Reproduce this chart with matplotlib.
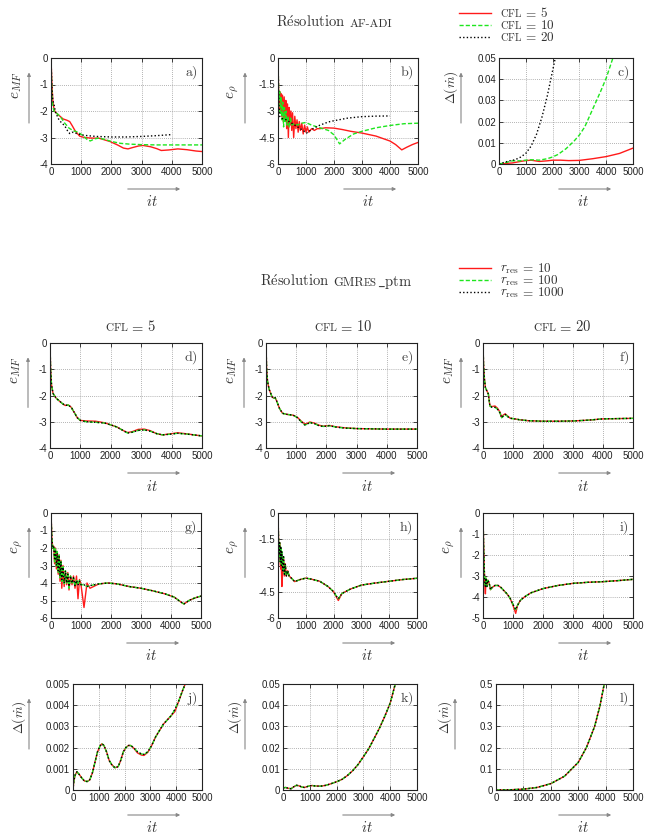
import matplotlib
matplotlib.use("Agg")
import matplotlib.pyplot as plt

W, H = 655, 834

plt.rcParams['font.family'] = ['Liberation Sans', 'DejaVu Sans']
plt.rcParams['mathtext.fontset'] = 'cm'

# ---------------- data: AF-ADI (a, b, c) ----------------
a_red_x = [0, 30, 60, 100, 150, 200, 300, 400, 530, 620, 700, 800, 950, 1100, 1300, 1600, 1950,
           2200, 2400, 2550, 2700, 2900, 3050, 3300, 3500, 3650, 3900, 4200, 4500, 4800, 5000]
a_red_y = [0, -1.0, -1.6, -1.95, -2.05, -2.1, -2.2, -2.3, -2.35, -2.4, -2.55, -2.75, -2.95, -3.0,
           -3.02, -3.03, -3.15, -3.28, -3.4, -3.43, -3.38, -3.32, -3.3, -3.35, -3.42, -3.49, -3.47,
           -3.43, -3.46, -3.51, -3.53]
a_green_x = [0, 30, 60, 100, 200, 300, 450, 600, 750, 900, 1050, 1200, 1300, 1450, 1600, 1800,
             2000, 2300, 2600, 3000, 3500, 4000, 4500, 5000]
a_green_y = [0, -1.4, -1.8, -2.0, -2.1, -2.2, -2.45, -2.65, -2.75, -2.8, -2.92, -3.08, -3.13, -3.05,
             -3.02, -3.08, -3.15, -3.22, -3.25, -3.27, -3.28, -3.28, -3.28, -3.28]
a_black_x = [0, 30, 60, 100, 150, 250, 350, 450, 550, 620, 700, 850, 1000, 1200, 1500, 2000, 2500,
             3000, 3500, 4000]
a_black_y = [0, -1.1, -1.6, -1.75, -2.05, -2.3, -2.45, -2.55, -2.75, -2.85, -2.8, -2.85, -2.9, -2.93,
             -2.96, -2.98, -2.98, -2.96, -2.93, -2.89]

b_red_x = [0, 20, 40, 60, 80, 100, 130, 160, 190, 220, 250, 280, 310, 340, 370, 400, 430, 460,
           490, 520, 560, 600, 640, 680, 720, 760, 800, 850, 900, 950, 1000, 1050, 1100, 1200,
           1300, 1400, 1500, 1700, 2000, 2300, 2600, 3000, 3500, 4000, 4200, 4420, 4600, 4800, 5000]
b_red_y = [0, -1.8, -2.6, -1.9, -3.0, -2.0, -3.3, -2.1, -3.6, -2.2, -3.4, -2.4, -4.0, -2.6, -4.5,
           -2.8, -3.8, -3.0, -4.1, -3.1, -4.5, -3.3, -4.0, -3.5, -4.2, -3.6, -4.1, -3.7, -4.3, -3.8,
           -4.2, -3.9, -4.2, -4.0, -4.1, -4.0, -4.0, -3.95, -3.97, -4.05, -4.15, -4.25, -4.42, -4.7,
           -4.9, -5.2, -5.05, -4.9, -4.78]
b_green_x = [0, 20, 40, 60, 80, 110, 140, 170, 200, 230, 260, 290, 320, 360, 400, 450, 500, 600,
             700, 800, 1000, 1200, 1500, 1800, 2000, 2200, 2400, 2700, 3000, 3500, 4000, 4500, 5000]
b_green_y = [0, -1.7, -2.4, -1.9, -3.2, -2.2, -3.5, -2.5, -3.9, -2.8, -3.6, -3.0, -3.8, -3.3, -3.9,
             -3.4, -3.8, -3.7, -3.8, -3.7, -3.65, -3.8, -3.95, -4.1, -4.35, -4.86, -4.6, -4.3,
             -4.15, -3.95, -3.82, -3.72, -3.69]
b_black_x = [0, 30, 60, 100, 200, 300, 400, 500, 600, 700, 800, 900, 1020, 1100, 1200, 1300, 1500,
             1800, 2000, 2500, 3000, 3500, 4000]
b_black_y = [0, -2.5, -3.3, -3.4, -3.45, -3.5, -3.6, -3.7, -3.8, -3.9, -4.0, -4.1, -4.25, -4.15,
             -4.05, -3.95, -3.8, -3.62, -3.55, -3.4, -3.32, -3.29, -3.28]

c_red_x = [0, 300, 500, 800, 1000, 1200, 1500, 1800, 2000, 2300, 2600, 3000, 3500, 4000, 4500, 5000]
c_red_y = [0, 0.0003, 0.0005, 0.0012, 0.0016, 0.0018, 0.0012, 0.0015, 0.0018, 0.0018, 0.0016,
           0.0017, 0.0025, 0.0035, 0.005, 0.0075]
c_green_x = [0, 200, 500, 800, 1000, 1200, 1500, 1800, 2000, 2200, 2500, 2800, 3000, 3200, 3500,
             3800, 4000, 4250]
c_green_y = [0, 0.0005, 0.0015, 0.0015, 0.0018, 0.002, 0.0018, 0.0025, 0.0033, 0.0045, 0.0072,
             0.0108, 0.0137, 0.0175, 0.026, 0.0345, 0.0405, 0.05]
c_black_x = [0, 200, 400, 600, 800, 1000, 1200, 1400, 1600, 1800, 1900, 2000, 2100]
c_black_y = [0, 0.0008, 0.0015, 0.002, 0.0032, 0.005, 0.0085, 0.014, 0.022, 0.032, 0.038, 0.044, 0.05]

# ---------------- data: GMRes_ptm (d .. l) ----------------
d_x = [0, 20, 50, 100, 200, 300, 400, 500, 600, 700, 800, 900, 1000, 1200, 1500, 1800, 2000, 2200,
       2400, 2550, 2700, 2900, 3100, 3300, 3500, 3700, 3900, 4200, 4500, 4800, 5000]
d_green_y = [0, -1.0, -1.6, -1.92, -2.1, -2.2, -2.3, -2.38, -2.36, -2.45, -2.65, -2.85, -2.95, -3.0,
             -3.02, -3.05, -3.12, -3.2, -3.33, -3.43, -3.4, -3.33, -3.31, -3.36, -3.45, -3.5, -3.48,
             -3.44, -3.47, -3.51, -3.54]
d_red_y = [0, -1.0, -1.6, -1.92, -2.1, -2.2, -2.3, -2.38, -2.36, -2.45, -2.65, -2.85, -2.95, -2.97,
           -2.98, -3.04, -3.12, -3.2, -3.33, -3.41, -3.38, -3.29, -3.28, -3.34, -3.45, -3.5, -3.47,
           -3.42, -3.46, -3.51, -3.54]
d_black_y = d_green_y

e_x = [0, 20, 50, 100, 200, 250, 300, 350, 450, 550, 700, 900, 1050, 1150, 1280, 1350, 1450, 1600,
       1750, 1900, 2100, 2300, 2600, 3000, 3500, 4000, 4500, 5000]
e_green_y = [0, -1.0, -1.45, -1.75, -2.05, -2.1, -2.08, -2.2, -2.5, -2.68, -2.72, -2.75, -2.85,
             -2.98, -3.12, -3.1, -3.03, -3.07, -3.15, -3.18, -3.15, -3.2, -3.24, -3.26, -3.27,
             -3.28, -3.28, -3.28]
e_red_y = [0, -1.0, -1.45, -1.75, -2.05, -2.1, -2.08, -2.2, -2.5, -2.68, -2.72, -2.75, -2.84,
           -2.96, -3.08, -3.07, -3.01, -3.05, -3.13, -3.17, -3.14, -3.19, -3.23, -3.26, -3.27,
           -3.28, -3.28, -3.28]
e_black_y = e_green_y

f_x = [0, 20, 50, 80, 120, 180, 230, 300, 400, 480, 560, 620, 680, 740, 820, 900, 1000, 1200, 1500,
       2000, 2500, 3000, 3500, 4000, 4500, 5000]
f_green_y = [0, -0.9, -1.4, -1.7, -1.8, -1.95, -2.4, -2.45, -2.45, -2.52, -2.65, -2.85, -2.78,
             -2.72, -2.8, -2.87, -2.88, -2.92, -2.96, -2.98, -2.98, -2.97, -2.94, -2.89, -2.88, -2.87]
f_red_y = [0, -0.9, -1.4, -1.7, -1.8, -1.95, -2.4, -2.42, -2.4, -2.48, -2.62, -2.82, -2.74, -2.7,
           -2.78, -2.86, -2.88, -2.92, -2.96, -2.98, -2.98, -2.97, -2.94, -2.89, -2.88, -2.87]
f_black_y = f_green_y

g_x = [0, 30, 60, 90, 120, 150, 180, 210, 240, 270, 300, 330, 360, 400, 440, 480, 520, 560, 600,
       650, 700, 750, 800, 850, 900, 950, 1000, 1100, 1200, 1300, 1600, 1900, 2200, 2600, 3000,
       3400, 3800, 4100, 4300, 4430, 4600, 4800, 5000]
g_green_y = [0, -1.5, -2.0, -1.9, -2.8, -2.0, -3.1, -2.2, -3.4, -2.4, -3.7, -2.7, -3.9, -3.0, -4.1,
             -3.3, -4.0, -3.4, -4.3, -3.6, -4.0, -3.7, -4.2, -3.8, -4.1, -3.85, -4.1, -4.1, -4.2,
             -4.15, -4.05, -4.0, -4.05, -4.2, -4.3, -4.45, -4.62, -4.8, -5.05, -5.2, -5.0, -4.85,
             -4.75]
g_red_y = [0, -1.5, -2.0, -1.9, -2.9, -2.0, -3.2, -2.2, -3.5, -2.4, -3.9, -2.7, -4.3, -3.0, -4.2,
           -3.3, -4.1, -3.4, -4.4, -3.6, -4.1, -3.6, -4.3, -3.6, -4.9, -3.8, -4.1, -5.4, -4.0,
           -4.3, -4.05, -4.0, -4.05, -4.2, -4.3, -4.45, -4.62, -4.8, -5.05, -5.2, -5.0, -4.85,
           -4.75]
g_black_y = [0, -1.5, -2.0, -1.95, -2.7, -2.1, -3.0, -2.3, -3.3, -2.5, -3.6, -2.8, -3.8, -3.1, -4.0,
             -3.3, -4.0, -3.5, -4.2, -3.6, -4.0, -3.7, -4.15, -3.85, -4.1, -3.9, -4.1, -4.1, -4.2,
             -4.15, -4.05, -4.0, -4.05, -4.2, -4.3, -4.45, -4.62, -4.8, -5.05, -5.2, -5.0, -4.85,
             -4.75]

h_x = [0, 20, 40, 60, 80, 100, 120, 140, 170, 200, 230, 260, 300, 350, 400, 500, 600, 800, 1000,
       1200, 1500, 1800, 2000, 2100, 2170, 2300, 2600, 3000, 3500, 4000, 4500, 5000]
h_green_y = [0, -1.5, -2.3, -1.7, -2.8, -1.9, -3.0, -2.2, -3.3, -2.5, -3.5, -2.9, -3.6, -3.3, -3.6,
             -3.75, -3.92, -3.8, -3.72, -3.78, -3.9, -4.2, -4.5, -4.75, -4.9, -4.6, -4.35, -4.12,
             -4.0, -3.9, -3.8, -3.73]
h_red_y = [0, -1.5, -2.3, -1.7, -2.9, -3.2, -3.0, -4.2, -3.3, -2.6, -3.6, -2.9, -3.6, -3.3, -3.6,
           -3.75, -3.92, -3.8, -3.72, -3.78, -3.9, -4.2, -4.5, -4.8, -5.0, -4.6, -4.35, -4.12,
           -4.0, -3.9, -3.8, -3.73]
h_black_y = h_green_y

i_x = [0, 20, 40, 60, 80, 100, 130, 160, 200, 250, 300, 400, 500, 600, 700, 800, 900, 1000, 1090,
       1150, 1250, 1400, 1600, 1800, 2000, 2500, 3000, 3500, 4000, 4500, 5000]
i_green_y = [0, -1.5, -2.6, -3.3, -3.5, -3.1, -3.5, -3.2, -3.3, -3.65, -3.55, -3.45, -3.45, -3.55,
             -3.7, -3.85, -4.05, -4.35, -4.6, -4.4, -4.15, -3.98, -3.8, -3.7, -3.6, -3.45, -3.35,
             -3.3, -3.27, -3.22, -3.16]
i_red_y = [0, -1.5, -2.6, -3.4, -3.85, -3.1, -3.5, -3.2, -3.3, -3.65, -3.55, -3.45, -3.45, -3.55,
           -3.7, -3.85, -4.05, -4.4, -4.78, -4.4, -4.15, -3.98, -3.8, -3.7, -3.6, -3.45, -3.35,
           -3.3, -3.27, -3.22, -3.16]
i_black_y = i_green_y

j_x = [0, 30, 80, 150, 250, 350, 450, 550, 650, 750, 850, 950, 1050, 1120, 1200, 1300, 1400, 1500,
       1620, 1750, 1850, 1950, 2050, 2150, 2230, 2350, 2500, 2650, 2750, 2900, 3050, 3200, 3350,
       3500, 3650, 3800, 3950, 4100, 4250, 4350, 4450]
j_green_y = [0, 0.0004, 0.0007, 0.00086, 0.00072, 0.00055, 0.00042, 0.0004, 0.00048, 0.0008, 0.0013,
             0.0018, 0.00208, 0.00218, 0.0021, 0.0018, 0.0014, 0.0012, 0.00105, 0.0011, 0.0014,
             0.0018, 0.002, 0.0021, 0.0021, 0.002, 0.0018, 0.0017, 0.00168, 0.0018, 0.0021,
             0.0025, 0.0028, 0.0031, 0.0033, 0.0035, 0.0038, 0.0042, 0.0047, 0.005, 0.0054]
j_red_y = [0, 0.0004, 0.0007, 0.00086, 0.00072, 0.00055, 0.00042, 0.0004, 0.00048, 0.0008, 0.0013,
           0.0018, 0.00208, 0.00218, 0.0021, 0.0018, 0.0014, 0.0012, 0.00105, 0.0011, 0.0014,
           0.0018, 0.002, 0.0021, 0.0021, 0.00198, 0.00175, 0.00165, 0.00163, 0.00178, 0.0021,
           0.0025, 0.0028, 0.0031, 0.0033, 0.0035, 0.0037, 0.0042, 0.0047, 0.005, 0.0054]
j_black_y = j_green_y

k_x = [0, 100, 200, 300, 400, 500, 600, 700, 800, 900, 1000, 1100, 1200, 1400, 1600, 1800, 2000,
       2200, 2400, 2600, 2800, 3000, 3200, 3400, 3600, 3800, 4000, 4200]
k_green_y = [0.001, 0.0012, 0.0008, 0.0006, 0.0015, 0.0022, 0.002, 0.0014, 0.0012, 0.0016, 0.002,
             0.0021, 0.0019, 0.0018, 0.0022, 0.003, 0.0039, 0.005, 0.0068, 0.0091, 0.012, 0.0157,
             0.0195, 0.0243, 0.0292, 0.0348, 0.041, 0.0505]
k_red_y = k_green_y
k_black_y = k_green_y

l_x = [0, 500, 1000, 1500, 2000, 2500, 3000, 3300, 3600, 3800, 3950, 4050]
l_green_y = [0, 0.001, 0.004, 0.012, 0.03, 0.065, 0.13, 0.2, 0.3, 0.4, 0.5, 0.57]
l_red_y = l_green_y
l_black_y = l_green_y

# axis ticks
x_ticks = [0, 1000, 2000, 3000, 4000, 5000]
x_ticklabels = ['0', '1000', '2000', '3000', '4000', '5000']
emf_ticks = [0, -1, -2, -3, -4]
emf_labels = ['0', '-1', '-2', '-3', '-4']
erho_ticks = [0, -1.5, -3, -4.5, -6]
erho_labels = ['0', '-1.5', '-3', '-4.5', '-6']
g_ticks = [0, -1, -2, -3, -4, -5, -6]
g_labels = ['0', '-1', '-2', '-3', '-4', '-5', '-6']
i_ticks = [0, -1, -2, -3, -4, -5]
i_labels = ['0', '-1', '-2', '-3', '-4', '-5']
dm_ticks = [0, 0.01, 0.02, 0.03, 0.04, 0.05]
dm_labels = ['0', '0.01', '0.02', '0.03', '0.04', '0.05']
dmj_ticks = [0, 0.001, 0.002, 0.003, 0.004, 0.005]
dmj_labels = ['0', '0.001', '0.002', '0.003', '0.004', '0.005']
dml_ticks = [0, 0.1, 0.2, 0.3, 0.4, 0.5]
dml_labels = ['0', '0.1', '0.2', '0.3', '0.4', '0.5']

cfl_names = ['5', '10', '20']
rres_names = ['10', '100', '1000']

STYLES = [
    dict(color='#ff1a1a', lw=1.0, ls='-'),
    dict(color='#1ee61e', lw=1.0, ls=(0, (3, 1.5))),
    dict(color='#000000', lw=1.0, ls=(0, (1, 1.6))),
]
TXT = '#333333'

fig = plt.figure(figsize=(W / 100, H / 100), dpi=100)
renderer = fig.canvas.get_renderer()


def rich_text(x, y, parts, center=False):
    # parts: (text, size, family, gap after in px) laid out on a common baseline
    cur = x
    items = []
    for s, size, fam, gap in parts:
        kw = {} if fam is None else {'family': fam}
        t = fig.text(cur / W, 1 - y / H, s, fontsize=size, va='baseline', ha='left',
                     color=TXT, **kw)
        cur += t.get_window_extent(renderer).width + gap
        items.append(t)
    if center:
        shift = (cur - x) / 2
        for t in items:
            px, py = t.get_position()
            t.set_x(px - shift / W)


def panel(box, tag, series, yticks, ylabels, ylab, lab_frac, arrow_off, lab_gap, lab_size):
    l, r, t, b = box
    ax = fig.add_axes([l / W, 1 - b / H, (r - l) / W, (b - t) / H])
    for (xs, ys), sty in zip(series, STYLES):
        ax.plot(xs, ys, **sty)
    ax.set_xlim(0, 5000)
    ax.set_ylim(min(yticks), max(yticks))
    ax.set_xticks(x_ticks)
    ax.set_xticklabels(x_ticklabels)
    ax.set_yticks(yticks)
    ax.set_yticklabels(ylabels)
    ax.tick_params(direction='in', top=True, right=True, length=3, width=0.6,
                   labelsize=7, pad=2, colors='#222222')
    ax.grid(True, color='#9a9a9a', ls=(0, (1, 1.5)), lw=0.6)
    for sp in ax.spines.values():
        sp.set_linewidth(0.8)
        sp.set_color('#222222')
    ax.text(1 - 4 / (r - l), 0.86, r'$\mathrm{' + tag + ')}$', transform=ax.transAxes,
            ha='right', va='center', fontsize=10, color='#444444')

    h = b - t
    # y arrow and label
    ax_x = l - arrow_off
    ax.annotate('', xy=(ax_x, H - (t + 0.11 * h)), xytext=(ax_x, H - (t + 0.64 * h)),
                xycoords='figure pixels', textcoords='figure pixels', annotation_clip=False,
                arrowprops=dict(arrowstyle='-|>', color='#888888', lw=0.8, mutation_scale=5))
    fig.text((ax_x - lab_gap) / W, 1 - (t + lab_frac * h) / H, ylab, rotation=90,
             ha='center', va='center', fontsize=lab_size, color=TXT)
    # x arrow and label
    ax.annotate('', xy=(r - 19, H - (b + 25)), xytext=(r - 77, H - (b + 25)),
                xycoords='figure pixels', textcoords='figure pixels', annotation_clip=False,
                arrowprops=dict(arrowstyle='-|>', color='#888888', lw=0.8, mutation_scale=5))
    fig.text((r - 50) / W, 1 - (b + 38) / H, r'$it$', ha='center', va='center',
             fontsize=10.5, color=TXT)
    return ax


EMF = r'$e_{MF}$'
ERHO = r'$e_\rho$'
DM = r'$\Delta(\dot{m})$'

# row 1 : AF-ADI
panel((51, 202, 58, 164), 'a', [(a_red_x, a_red_y), (a_green_x, a_green_y), (a_black_x, a_black_y)],
      emf_ticks, emf_labels, EMF, 0.26, 22, 12, 11)
panel((278, 418, 58, 164), 'b', [(b_red_x, b_red_y), (b_green_x, b_green_y), (b_black_x, b_black_y)],
      erho_ticks, erho_labels, ERHO, 0.32, 33, 12, 11)
panel((499, 633, 58, 164), 'c', [(c_red_x, c_red_y), (c_green_x, c_green_y), (c_black_x, c_black_y)],
      dm_ticks, dm_labels, DM, 0.28, 38, 10, 9.5)

# row 2
panel((50, 202, 343, 448), 'd', [(d_x, d_red_y), (d_x, d_green_y), (d_x, d_black_y)],
      emf_ticks, emf_labels, EMF, 0.26, 22, 12, 11)
panel((266, 417, 343, 448), 'e', [(e_x, e_red_y), (e_x, e_green_y), (e_x, e_black_y)],
      emf_ticks, emf_labels, EMF, 0.26, 22, 12, 11)
panel((483, 633, 343, 448), 'f', [(f_x, f_red_y), (f_x, f_green_y), (f_x, f_black_y)],
      emf_ticks, emf_labels, EMF, 0.26, 22, 12, 11)

# row 3
panel((51, 201, 513, 618), 'g', [(g_x, g_red_y), (g_x, g_green_y), (g_x, g_black_y)],
      g_ticks, g_labels, ERHO, 0.32, 22, 12, 11)
panel((278, 417, 513, 618), 'h', [(h_x, h_red_y), (h_x, h_green_y), (h_x, h_black_y)],
      erho_ticks, erho_labels, ERHO, 0.32, 33, 12, 11)
panel((483, 633, 513, 618), 'i', [(i_x, i_red_y), (i_x, i_green_y), (i_x, i_black_y)],
      i_ticks, i_labels, ERHO, 0.32, 22, 12, 11)

# row 4
panel((73, 202, 684, 790), 'j', [(j_x, j_red_y), (j_x, j_green_y), (j_x, j_black_y)],
      dmj_ticks, dmj_labels, DM, 0.31, 44, 10, 9.5)
panel((283, 417, 684, 790), 'k', [(k_x, k_red_y), (k_x, k_green_y), (k_x, k_black_y)],
      dm_ticks, dm_labels, DM, 0.31, 38, 10, 9.5)
panel((496, 633, 684, 790), 'l', [(l_x, l_red_y), (l_x, l_green_y), (l_x, l_black_y)],
      dml_ticks, dml_labels, DM, 0.31, 41, 10, 9.5)

# titles
rich_text(334, 27, [(r'$\mathrm{R\acute{e}solution}$', 10.5, None, 4),
                    ('AF-ADI', 8.5, 'cmr10', 0)], center=True)
rich_text(336, 286, [(r'$\mathrm{R\acute{e}solution}$', 10.5, None, 4),
                     ('GMR', 9, 'cmr10', 0), ('ES', 7.5, 'cmr10', 0),
                     (r'$\_\mathrm{ptm}$', 10.5, None, 0)], center=True)
for cx, name in zip([130, 343, 562], cfl_names):
    rich_text(cx, 331, [(r'$\mathrm{CFL}$', 8, None, 0.5), (r'$=$', 10.5, None, 3),
                        (r'$' + name + '$', 10.5, None, 0)], center=True)

# legends (drawn by hand, as in the original layout)
for k, (name, sty) in enumerate(zip(cfl_names, STYLES)):
    yy = 13 + 11.8 * k
    fig.add_artist(plt.Line2D([459 / W, 491 / W], [1 - yy / H, 1 - yy / H], **sty))
    rich_text(500, yy + 4, [(r'$\mathrm{CFL}$', 7.5, None, 0.5), (r'$=$', 9.5, None, 3),
                            (r'$' + name + '$', 9.5, None, 0)])
for k, (name, sty) in enumerate(zip(rres_names, STYLES)):
    yy = 268 + 12.2 * k
    fig.add_artist(plt.Line2D([459 / W, 491 / W], [1 - yy / H, 1 - yy / H], **sty))
    rich_text(500, yy + 3.5, [(r'$r_{\mathrm{res}}$', 9.5, None, 1), (r'$=$', 9.5, None, 3),
                              (r'$' + name + '$', 9.5, None, 0)])

fig.savefig('out.png', dpi=100)
